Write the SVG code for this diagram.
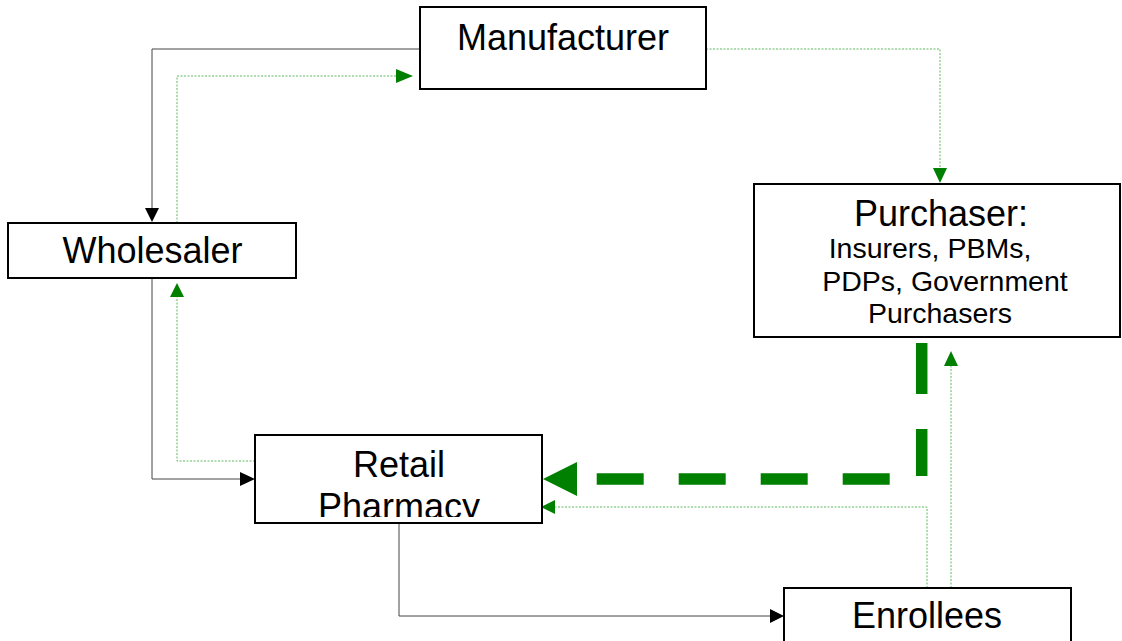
<svg xmlns="http://www.w3.org/2000/svg" width="1122" height="641" viewBox="0 0 1122 641">
<style>
.box{fill:#fff;stroke:#000;stroke-width:2}
.big{font-family:"Liberation Sans",Arial,sans-serif;font-size:36px;fill:#000;text-anchor:middle}
.sm{font-family:"Liberation Sans",Arial,sans-serif;font-size:28.5px;fill:#000;text-anchor:middle}
.blk{fill:none;stroke:#444;stroke-width:1}
.dot{fill:none;stroke:#5cb85c;stroke-width:1;stroke-dasharray:2 1.5}
.ga{fill:#008000}
.ba{fill:#000}
</style>
<defs>
<clipPath id="clipRetail"><rect x="256" y="436" width="285" height="81"/></clipPath>
</defs>
<rect width="1122" height="641" fill="#fff"/>
<g id="connectors">
<path class="blk" d="M420,49 H152 V208"/>
<polygon class="ba" points="145,208 159,208 152,222"/>
<path class="dot" d="M177,223 V76 H397"/>
<polygon class="ga" points="396,69 396,83 413,76"/>
<path class="dot" d="M706,49 H940 V169"/>
<polygon class="ga" points="933,168 947,168 940,183"/>
<path class="blk" d="M152,278 V479 H241"/>
<polygon class="ba" points="240,472 240,486 255,479"/>
<path class="dot" d="M255,461 H177 V296"/>
<polygon class="ga" points="170,297 184,297 177,283"/>
<path class="blk" d="M399,523 V616 H771"/>
<polygon class="ba" points="770,609 770,623 784,616"/>
<path class="dot" d="M927,588 V507 H554"/>
<polygon class="ga" points="555,500 555,514 541,507"/>
<path class="dot" d="M951,588 V365"/>
<polygon class="ga" points="944,366 958,366 951,351"/>
<path fill="none" stroke="#008000" stroke-width="11.5" stroke-dasharray="51 35 47 35 47 35 47 35 47 35 47 35 47 35" d="M921.7,343 V479 H577"/>
<polygon class="ga" points="577,462 577,496 543,479"/>
</g>
<g id="manufacturer">
<rect class="box" x="420" y="7" width="286" height="82"/>
<text class="big" x="563" y="50">Manufacturer</text>
</g>
<g id="purchaser">
<rect class="box" x="754" y="184" width="366" height="153"/>
<text class="big" x="941" y="226">Purchaser:</text>
<text class="sm" x="930" y="258">Insurers, PBMs,</text>
<text class="sm" x="945" y="291">PDPs, Government</text>
<text class="sm" x="940" y="323">Purchasers</text>
</g>
<g id="wholesaler">
<rect class="box" x="8" y="223" width="288" height="55"/>
<text class="big" x="152.5" y="263">Wholesaler</text>
</g>
<g id="retail">
<rect class="box" x="255" y="435" width="287" height="88"/>
<g clip-path="url(#clipRetail)">
<text class="big" x="399" y="477">Retail</text>
<text class="big" x="399" y="519">Pharmacy</text>
</g>
</g>
<g id="enrollees">
<rect class="box" x="784" y="588" width="287" height="60"/>
<text class="big" x="927" y="628">Enrollees</text>
</g>
</svg>
